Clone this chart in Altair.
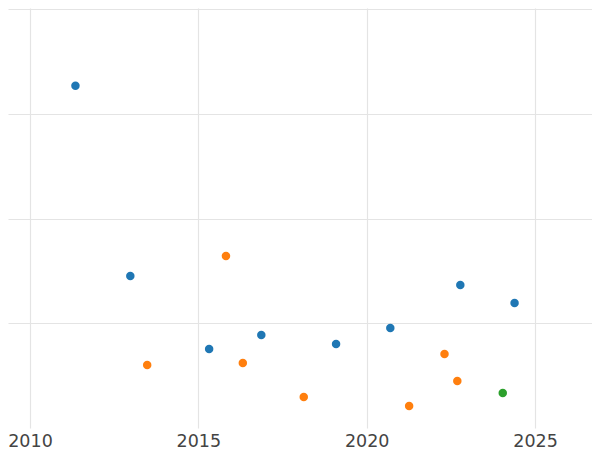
import altair as alt
import pandas as pd

years_blue = [2011.35, 2012.98, 2015.32, 2016.87, 2019.09, 2020.70, 2022.78, 2024.39]
vals_blue = [32.67, 14.52, 7.55, 8.89, 8.03, 9.55, 13.66, 11.94]
years_orange = [2013.48, 2015.82, 2016.32, 2018.13, 2021.26, 2022.31, 2022.69]
vals_orange = [6.02, 16.43, 6.21, 2.96, 2.10, 7.07, 4.49]
years_green = [2024.04]
vals_green = [3.34]
groups = ["A", "B", "C"]
x_ticks = [2010, 2015, 2020, 2025]
y_ticks = [10, 20, 30, 40]

rows = []
for g, xs, ys in zip(groups, [years_blue, years_orange, years_green], [vals_blue, vals_orange, vals_green]):
    for x, y in zip(xs, ys):
        rows.append({"year": x, "value": y, "group": g})
df = pd.DataFrame(rows)

chart = alt.Chart(df).mark_circle(size=72, opacity=1).encode(
    x=alt.X("year:Q", scale=alt.Scale(domain=[2009.347, 2026.69], nice=False, zero=False),
            axis=alt.Axis(values=x_ticks, format="d", title=None, domain=False, ticks=False,
                          tickSize=0, labelPadding=4, labelFontSize=17.5, labelColor="#444444",
                          labelFont="DejaVu Sans", gridColor="#e4e4e4", gridWidth=1.2,
                          labelFlush=False)),
    y=alt.Y("value:Q", scale=alt.Scale(domain=[0, 40.1], nice=False, zero=False),
            axis=alt.Axis(values=y_ticks, title=None, domain=False, ticks=False, labels=False,
                          gridColor="#e4e4e4", gridWidth=1.2)),
    color=alt.Color("group:N", scale=alt.Scale(domain=groups, range=["#1f77b4", "#ff7f0e", "#2ca02c"]),
                    legend=None),
).properties(
    width=584, height=420,
    autosize=alt.AutoSizeParams(type="none"),
    padding={"left": 0, "top": 0, "right": 0, "bottom": 24},
).configure_view(stroke=None)

chart.save("out.html", embed_options={"renderer": "svg", "actions": False})
